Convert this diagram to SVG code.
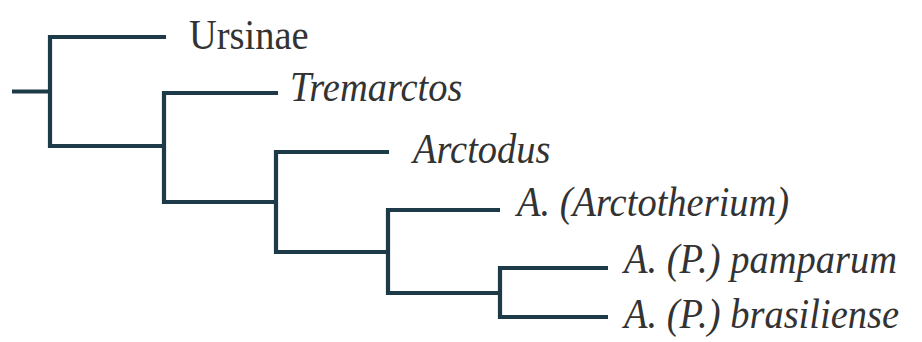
<svg xmlns="http://www.w3.org/2000/svg" width="922" height="342" viewBox="0 0 922 342">
<rect width="922" height="342" fill="#ffffff"/>
<g id="connectors" fill="none" stroke="#1c3a47" stroke-width="4.2" stroke-linejoin="miter" stroke-linecap="butt">
<path d="M12 91.5H50"/>
<path d="M166 37H50V146H164"/>
<path d="M278 93H164V202H276"/>
<path d="M389 152H276V252H388"/>
<path d="M500 210H388V293H500"/>
<path d="M608 268H500V317H608"/>
</g>
<g id="ursinae"><text transform="translate(189 49) scale(1 1.12)" font-family="Liberation Serif, Tinos, Nimbus Roman, FreeSerif, serif" font-size="38.5" fill="#333333">Ursinae</text></g>
<g id="tremarctos"><text transform="translate(290 101) scale(1 1.12)" font-family="Liberation Serif, Tinos, Nimbus Roman, FreeSerif, serif" font-size="38.5" font-style="italic" fill="#333333">Tremarctos</text></g>
<g id="arctodus"><text transform="translate(413 163) scale(1 1.12)" font-family="Liberation Serif, Tinos, Nimbus Roman, FreeSerif, serif" font-size="38.5" font-style="italic" fill="#333333">Arctodus</text></g>
<g id="arctotherium"><text transform="translate(517 216) scale(1 1.12)" font-family="Liberation Serif, Tinos, Nimbus Roman, FreeSerif, serif" font-size="38.5" font-style="italic" fill="#333333">A. (Arctotherium)</text></g>
<g id="pamparum"><text transform="translate(624 273) scale(1 1.12)" font-family="Liberation Serif, Tinos, Nimbus Roman, FreeSerif, serif" font-size="38.5" font-style="italic" fill="#333333">A. (P.) pamparum</text></g>
<g id="brasiliense"><text transform="translate(624 328) scale(1 1.12)" font-family="Liberation Serif, Tinos, Nimbus Roman, FreeSerif, serif" font-size="38.5" font-style="italic" fill="#333333">A. (P.) brasiliense</text></g>
</svg>
